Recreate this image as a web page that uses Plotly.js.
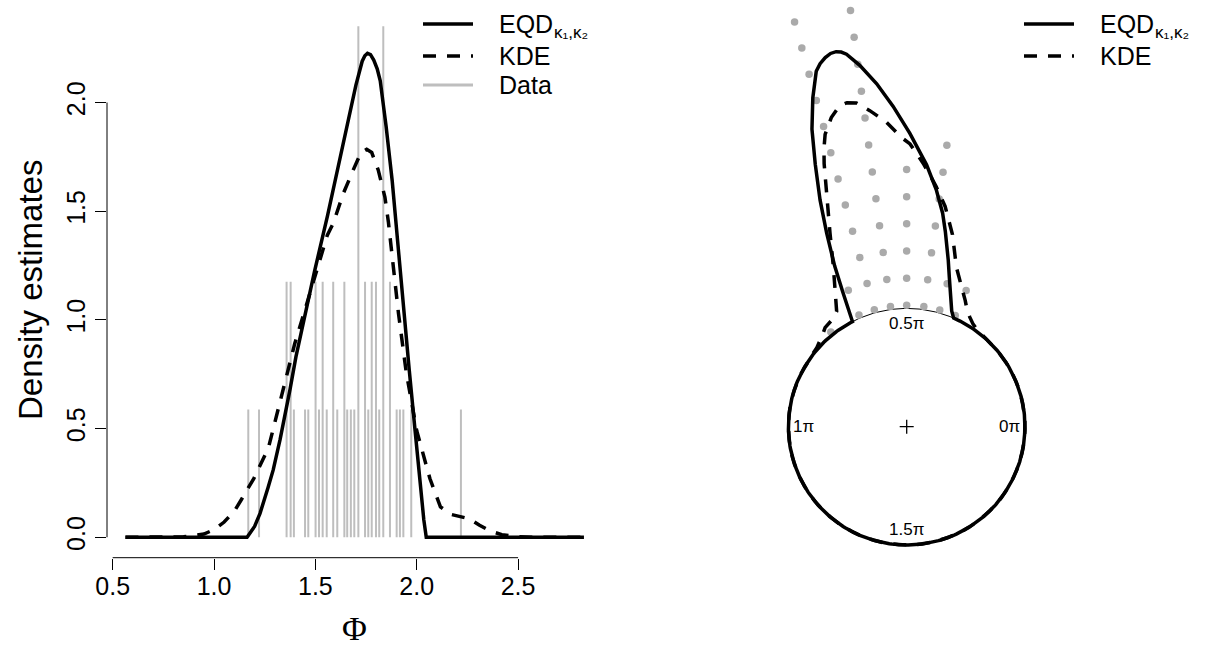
<!DOCTYPE html>
<html>
<head>
<meta charset="utf-8">
<script src="https://cdn.plot.ly/plotly-3.0.1.min.js"></script>
<style>html,body{margin:0;padding:0;background:#fff}#chart{width:1206px;height:646px}</style>
</head>
<body>
<div id="chart"></div>
<script>
// ---------- data ----------
const eqdPhi  = [0.563, 1.163, 1.200, 1.227, 1.267, 1.292, 1.326, 1.342, 1.375, 1.404, 1.447, 1.495, 1.560, 1.613, 1.658, 1.700, 1.731, 1.744, 1.757, 1.772, 1.788, 1.805, 1.820, 1.849, 1.879, 1.906, 1.936, 1.963, 1.992, 2.014, 2.035, 2.047, 2.825];
const eqdDens = [0.000, 0.000, 0.050, 0.110, 0.230, 0.310, 0.450, 0.520, 0.680, 0.830, 1.020, 1.220, 1.480, 1.710, 1.910, 2.080, 2.190, 2.215, 2.226, 2.220, 2.195, 2.155, 2.100, 1.890, 1.640, 1.350, 1.050, 0.770, 0.490, 0.260, 0.080, 0.000, 0.000];

const kdePhi  = [0.563, 0.750, 0.850, 0.950, 1.000, 1.050, 1.100, 1.136, 1.196, 1.268, 1.337, 1.398, 1.450, 1.508, 1.559, 1.588, 1.638, 1.687, 1.725, 1.753, 1.778, 1.810, 1.843, 1.860, 1.875, 1.910, 1.948, 2.000, 2.065, 2.117, 2.170, 2.220, 2.260, 2.310, 2.360, 2.420, 2.500, 2.570, 2.700, 2.825];
const kdeDens = [0.000, 0.000, 0.002, 0.015, 0.035, 0.070, 0.120, 0.175, 0.270, 0.410, 0.670, 0.890, 1.050, 1.230, 1.390, 1.444, 1.582, 1.690, 1.770, 1.785, 1.770, 1.690, 1.565, 1.452, 1.330, 1.030, 0.760, 0.490, 0.270, 0.140, 0.105, 0.095, 0.085, 0.055, 0.030, 0.012, 0.003, 0.000, 0.000, 0.000];

// observed angles (left panel spikes) and their multiplicities
const dataPhi   = [1.169, 1.222, 1.358, 1.378, 1.394, 1.449, 1.465, 1.501, 1.518, 1.536, 1.556, 1.588, 1.608, 1.643, 1.657, 1.675, 1.692, 1.712, 1.745, 1.761, 1.778, 1.799, 1.815, 1.835, 1.868, 1.901, 1.917, 1.934, 1.973, 2.218];
const dataCount = [1, 1, 2, 2, 1, 1, 1, 2, 1, 2, 1, 2, 1, 2, 1, 1, 1, 4, 2, 1, 2, 2, 1, 4, 2, 1, 1, 1, 1, 1];
const spikeUnit = 0.5878;   // spike height per observation

// stacked points on the circular plot (bin angle, number of stacked points)
const dotPhi   = [1.159, 1.295, 1.429, 1.571, 1.705, 1.841, 1.975, 2.246];
const dotCount = [2, 2, 7, 6, 12, 12, 2, 1];

const xTicks = [0.5, 1.0, 1.5, 2.0, 2.5];
const xTickLabels = ['0.5', '1.0', '1.5', '2.0', '2.5'];
const yTicks = [0.0, 0.5, 1.0, 1.5, 2.0];
const yTickLabels = ['0.0', '0.5', '1.0', '1.5', '2.0'];
const circleLabelTurns = [0, 0.5, 1, 1.5];           // multiples of pi
const circleLabelText  = ['0π', '0.5π', '1π', '1.5π'];

const legendNames = ['EQD', 'KDE', 'Data'];
const legendSubs  = ['κ₁,κ₂', '', ''];

// ---------- styling / layout constants ----------
const W = 1206, H = 646;
const SANS = 'Liberation Sans, Arial, Helvetica, sans-serif';
const SERIF = 'Liberation Serif, Times New Roman, serif';
const CURVE_W = 3.5;
const DASH = '13px,11px';
const SPIKE_COLOR = '#BEBEBE';
const DOT_COLOR = '#AAAAAA';
const dotBase = 1.026, dotStep = 0.2295, labelR = 0.87;

const px = v => v / W;              // horizontal px -> paper
const py = v => 1 - v / H;          // vertical px (from top) -> paper

// ---------- helpers ----------
function polarPath(phi, dens) {
  const X = [], Y = [];
  const push = (t, r) => { X.push(r * Math.cos(t)); Y.push(r * Math.sin(t)); };
  for (let i = 0; i < phi.length; i++) {
    push(phi[i], 1 + dens[i]);
    if (i < phi.length - 1 && dens[i] === 0 && dens[i + 1] === 0) {
      for (let t = phi[i] + 0.02; t < phi[i + 1]; t += 0.02) push(t, 1);
    }
  }
  // the rest of the circle, where the density is zero
  const end = phi[0] + 2 * Math.PI;
  for (let t = phi[phi.length - 1] + 0.02; t < end; t += 0.02) push(t, 1);
  push(end, 1 + dens[0]);
  return {x: X, y: Y};
}

// ---------- left panel traces ----------
const spikeX = [], spikeY = [];
dataPhi.forEach((p, i) => { spikeX.push(p, p, null); spikeY.push(0, dataCount[i] * spikeUnit, null); });

const traces = [];
traces.push({type: 'scatter', mode: 'lines', x: spikeX, y: spikeY, xaxis: 'x', yaxis: 'y',
  line: {color: SPIKE_COLOR, width: 2}, hoverinfo: 'skip', name: 'Data'});
traces.push({type: 'scatter', mode: 'lines', x: eqdPhi, y: eqdDens, xaxis: 'x', yaxis: 'y',
  line: {color: 'black', width: CURVE_W}, name: 'EQD'});
traces.push({type: 'scatter', mode: 'lines', x: kdePhi, y: kdeDens, xaxis: 'x', yaxis: 'y',
  line: {color: 'black', width: CURVE_W, dash: DASH}, name: 'KDE'});

// ---------- right panel traces ----------
const circ = {x: [], y: []};
for (let k = 0; k <= 360; k++) { const t = k * Math.PI / 180; circ.x.push(Math.cos(t)); circ.y.push(Math.sin(t)); }
traces.push({type: 'scatter', mode: 'lines', x: circ.x, y: circ.y, xaxis: 'x2', yaxis: 'y2',
  line: {color: 'black', width: 1}, hoverinfo: 'skip'});

const dotsX = [], dotsY = [];
dotPhi.forEach((t, i) => {
  for (let k = 0; k < dotCount[i]; k++) {
    const r = dotBase + dotStep * k;
    dotsX.push(r * Math.cos(t)); dotsY.push(r * Math.sin(t));
  }
});
traces.push({type: 'scatter', mode: 'markers', x: dotsX, y: dotsY, xaxis: 'x2', yaxis: 'y2',
  marker: {color: DOT_COLOR, size: 7.5}, hoverinfo: 'skip'});

const eqdP = polarPath(eqdPhi, eqdDens);
const kdeP = polarPath(kdePhi, kdeDens);
traces.push({type: 'scatter', mode: 'lines', x: eqdP.x, y: eqdP.y, xaxis: 'x2', yaxis: 'y2',
  line: {color: 'black', width: CURVE_W}, hoverinfo: 'skip'});
traces.push({type: 'scatter', mode: 'lines', x: kdeP.x, y: kdeP.y, xaxis: 'x2', yaxis: 'y2',
  line: {color: 'black', width: CURVE_W, dash: DASH}, hoverinfo: 'skip'});

traces.push({type: 'scatter', mode: 'markers', x: [0], y: [0], xaxis: 'x2', yaxis: 'y2',
  marker: {symbol: 'cross-thin', size: 10, color: 'black', line: {color: 'black', width: 1.3}}, hoverinfo: 'skip'});

// ---------- axes geometry ----------
const xr0 = 0.472, xr1 = 2.916;       // left x range
const yr0 = -0.094, yr1 = 2.445;      // left y range
const R = 118.3, cx = 906.7, cy = 426.7, rLeft = 640;

// ---------- axis lines, titles, legends ----------
const shapes = [
  {type: 'line', xref: 'x domain', yref: 'y', x0: 0, x1: 0, y0: yTicks[0], y1: yTicks[yTicks.length - 1], line: {color: 'black', width: 1}},
  {type: 'line', xref: 'x', yref: 'y domain', x0: xTicks[0], x1: xTicks[xTicks.length - 1], y0: 0, y1: 0, line: {color: 'black', width: 1}}
];
const annotations = [
  {xref: 'paper', yref: 'paper', x: px(354.7), y: py(628), text: 'Φ', showarrow: false,
   xanchor: 'center', yanchor: 'middle', font: {family: SERIF, size: 34, color: 'black'}},
  {xref: 'paper', yref: 'paper', x: px(30), y: py(290), text: 'Density estimates', textangle: -90, showarrow: false,
   xanchor: 'center', yanchor: 'middle', font: {family: SANS, size: 33, color: 'black'}}
];
circleLabelTurns.forEach((a, i) => {
  annotations.push({xref: 'x2', yref: 'y2', x: labelR * Math.cos(a * Math.PI), y: labelR * Math.sin(a * Math.PI),
    text: circleLabelText[i], showarrow: false, xanchor: 'center', yanchor: 'middle',
    font: {family: SANS, size: 17, color: 'black'}});
});
const legendRows = [24, 56, 85];
const legendStyles = [
  {color: 'black', width: CURVE_W, dash: 'solid'},
  {color: 'black', width: CURVE_W, dash: DASH},
  {color: SPIKE_COLOR, width: 3, dash: 'solid'}
];
function addLegend(x0, n) {
  for (let i = 0; i < n; i++) {
    shapes.push({type: 'line', xref: 'paper', yref: 'paper', x0: px(x0), x1: px(x0 + 50),
      y0: py(legendRows[i]), y1: py(legendRows[i]), line: legendStyles[i]});
    annotations.push({xref: 'paper', yref: 'paper', x: px(x0 + 74), y: py(legendRows[i]), text: legendNames[i],
      showarrow: false, xanchor: 'left', yanchor: 'middle', font: {family: SANS, size: 25, color: 'black'}});
    if (legendSubs[i]) {
      annotations.push({xref: 'paper', yref: 'paper', x: px(x0 + 74 + 55), y: py(legendRows[i] + 8), text: legendSubs[i],
        showarrow: false, xanchor: 'left', yanchor: 'middle', font: {family: SANS, size: 17, color: 'black'}});
    }
  }
}
addLegend(423, 3);
addLegend(1024, 2);

const tickFont = {family: SANS, size: 25, color: 'black'};
const layout = {
  width: W, height: H, margin: {l: 0, r: 0, t: 0, b: 0},
  paper_bgcolor: 'white', plot_bgcolor: 'rgba(0,0,0,0)', showlegend: false,
  xaxis: {domain: [px(107.0), px(602.4)], range: [xr0, xr1], tickvals: xTicks, ticktext: xTickLabels,
    ticks: 'outside', ticklen: 11, tickwidth: 1, tickcolor: 'black', showline: false, showgrid: false,
    zeroline: false, tickfont: tickFont, ticklabelstandoff: -5, fixedrange: true, anchor: 'y'},
  yaxis: {domain: [py(557.7), py(5.8)], range: [yr0, yr1], tickvals: yTicks, ticktext: yTickLabels,
    ticks: 'outside', ticklen: 11, tickwidth: 1, tickcolor: 'black', showline: false, showgrid: false,
    zeroline: false, tickfont: tickFont, tickangle: -90, fixedrange: true, anchor: 'x'},
  xaxis2: {domain: [px(rLeft), 1], range: [-(cx - rLeft) / R, (W - cx) / R], visible: false, anchor: 'y2', fixedrange: true},
  yaxis2: {domain: [0, 1], range: [-(H - cy) / R, cy / R], visible: false, anchor: 'x2', fixedrange: true},
  shapes: shapes, annotations: annotations
};

Plotly.newPlot('chart', traces, layout, {displayModeBar: false, staticPlot: true});
</script>
</body>
</html>
